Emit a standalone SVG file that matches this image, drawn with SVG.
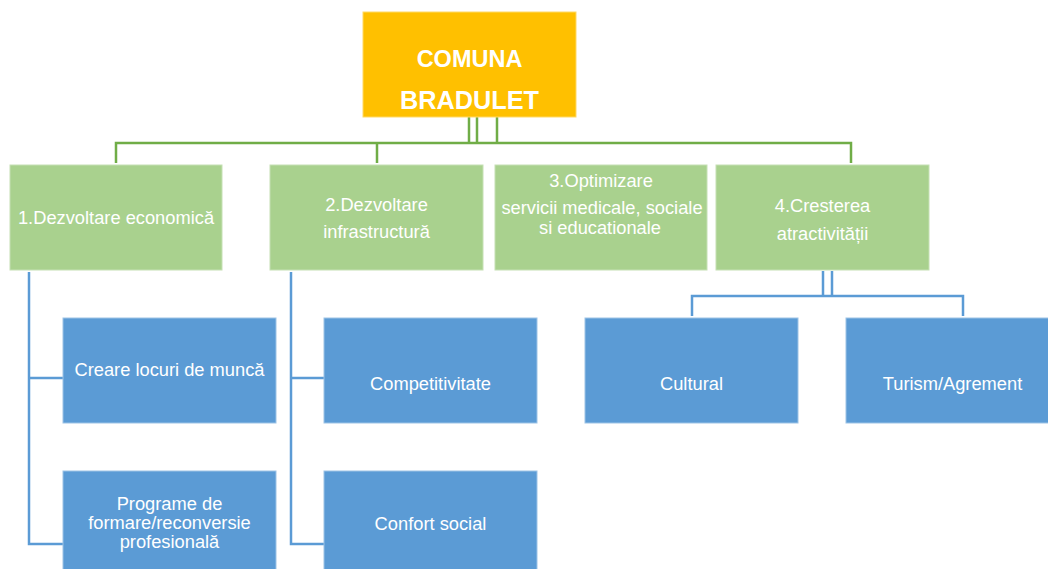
<svg xmlns="http://www.w3.org/2000/svg" width="1048" height="569" viewBox="0 0 1048 569">
<style>
.t{font-family:"Liberation Sans",Arial,sans-serif;font-size:18.3px;fill:#fff;text-anchor:middle}
.title{font-family:"Liberation Sans",Arial,sans-serif;font-weight:bold;fill:#fff;text-anchor:middle}
.g{fill:#A9D18E;stroke:#C5E0B4;stroke-width:1}
.b{fill:#5B9BD5;stroke:#9DC3E6;stroke-width:1}
.o{fill:#FFC000;stroke:#FFD966;stroke-width:1}
.gl{fill:none;stroke:#70AD47;stroke-width:2.5}
.bl{fill:none;stroke:#5B9BD5;stroke-width:2.5}
</style>
<rect width="1048" height="569" fill="#fff"/>
<g id="connectors">
<path class="gl" d="M469 117V143M477 117V143M497 117V143M116 163V143H851V163M377 143V163"/>
<path class="bl" d="M29 272V544H63M29 378H63M291 272V544H324M291 378H324"/>
<path class="bl" d="M823 271V296M832 271V296M692 316V296H963V316"/>
</g>
<g id="root">
<rect class="o" x="363" y="12" width="213" height="105"/>
<text class="title" x="469.5" y="67" font-size="23.5">COMUNA</text>
<text class="title" x="469.5" y="109" font-size="26" textLength="139" lengthAdjust="spacingAndGlyphs">BRADULET</text>
</g>
<g id="n1">
<rect class="g" x="10" y="165" width="212" height="105"/>
<text class="t" x="116" y="224">1.Dezvoltare economică</text>
</g>
<g id="n2">
<rect class="g" x="270" y="165" width="213" height="105"/>
<text class="t" x="376.5" y="211">2.Dezvoltare</text>
<text class="t" x="376.5" y="238">infrastructură</text>
</g>
<g id="n3">
<rect class="g" x="495" y="165" width="212" height="105"/>
<text class="t" x="601" y="187">3.Optimizare</text>
<text class="t" x="602" y="214">servicii medicale, sociale</text>
<text class="t" x="600" y="234">si educationale</text>
</g>
<g id="n4">
<rect class="g" x="716" y="165" width="213" height="105"/>
<text class="t" x="822.5" y="212">4.Cresterea</text>
<text class="t" x="822.5" y="240">atractivității</text>
</g>
<g id="n1a">
<rect class="b" x="63" y="318" width="213" height="105"/>
<text class="t" x="169.5" y="376">Creare locuri de muncă</text>
</g>
<g id="n1b">
<rect class="b" x="63" y="471" width="213" height="105"/>
<text class="t" x="169.5" y="510">Programe de</text>
<text class="t" x="169.5" y="529">formare/reconversie</text>
<text class="t" x="169.5" y="548">profesională</text>
</g>
<g id="n2a">
<rect class="b" x="324" y="318" width="213" height="105"/>
<text class="t" x="430.5" y="390">Competitivitate</text>
</g>
<g id="n2b">
<rect class="b" x="324" y="471" width="213" height="105"/>
<text class="t" x="430.5" y="530">Confort social</text>
</g>
<g id="n4a">
<rect class="b" x="585" y="318" width="213" height="105"/>
<text class="t" x="691.5" y="390">Cultural</text>
</g>
<g id="n4b">
<rect class="b" x="846" y="318" width="213" height="105"/>
<text class="t" x="952.5" y="390">Turism/Agrement</text>
</g>
</svg>
